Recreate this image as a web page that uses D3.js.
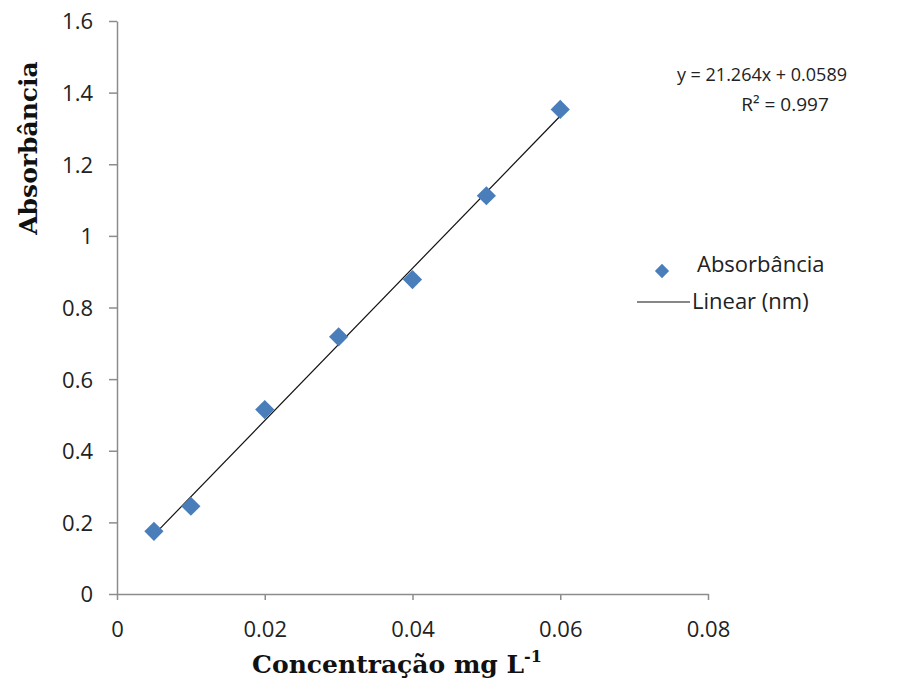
<!DOCTYPE html>
<html><head><meta charset="utf-8">
<script src="https://cdn.jsdelivr.net/npm/d3@7"></script>
<style>body{margin:0;background:#fff}svg{display:block}</style>
</head><body>
<svg id="c" width="907" height="684"></svg>
<script>
const concentrations = [0.005, 0.01, 0.02, 0.03, 0.04, 0.05, 0.06];
const absorbances = [0.175, 0.245, 0.515, 0.718, 0.878, 1.112, 1.353];
const xTicks = [0, 0.02, 0.04, 0.06, 0.08];
const yTicks = [0, 0.2, 0.4, 0.6, 0.8, 1, 1.2, 1.4, 1.6];
const slope = 21.264, intercept = 0.0589;
const trendX = [0.005, 0.06];

const svg = d3.select("#c");
const x = d3.scaleLinear().domain([0, 0.08]).range([117, 708]);
const y = d3.scaleLinear().domain([0, 1.6]).range([594, 21]);
const tickFont = "'Open Sans', sans-serif";
const axisColor = "#8c8c8c";

const xAxis = svg.append("g").attr("transform", "translate(0,594)")
  .call(d3.axisBottom(x).tickValues(xTicks).tickSize(6).tickSizeOuter(0)
    .tickFormat(d => d === 0 ? "0" : String(+d.toFixed(2))));
const yAxis = svg.append("g").attr("transform", "translate(117,0)")
  .call(d3.axisLeft(y).tickValues(yTicks).tickSize(8).tickSizeOuter(0).tickPadding(16)
    .tickFormat(d => String(+d.toFixed(1))));
[xAxis, yAxis].forEach(a => {
  a.selectAll("path,line").attr("stroke", axisColor).attr("stroke-width", 1.5);
  a.selectAll("text").attr("fill", "#222").attr("font-family", tickFont).attr("font-size", 22);
});
xAxis.selectAll("text").attr("y", 43).attr("dy", 0);
yAxis.selectAll("text").attr("dy", "0.36em");

// trendline
svg.append("line")
  .attr("x1", x(trendX[0])).attr("y1", y(slope * trendX[0] + intercept))
  .attr("x2", x(trendX[1])).attr("y2", y(slope * trendX[1] + intercept))
  .attr("stroke", "#111").attr("stroke-width", 1.2);

// points
const diamond = d3.symbol().type(d3.symbolDiamond2).size(235);
svg.append("g").selectAll("path").data(concentrations).join("path")
  .attr("d", diamond)
  .attr("transform", (d, i) => `translate(${x(d)},${y(absorbances[i])})`)
  .attr("fill", "#4a7ebb");

// axis titles
const serif = "'DejaVu Serif', 'Liberation Serif', serif";
svg.append("text").attr("transform", "translate(37,148) rotate(-90)")
  .attr("text-anchor", "middle").attr("font-family", serif).attr("font-weight", "bold")
  .attr("font-size", 25).attr("fill", "#111").text("Absorbância");
const xt = svg.append("text").attr("x", 397).attr("y", 673)
  .attr("text-anchor", "middle").attr("font-family", serif).attr("font-weight", "bold")
  .attr("font-size", 25).attr("fill", "#111");
xt.append("tspan").text("Concentração mg L");
xt.append("tspan").attr("dy", -11).attr("font-size", 16).text("-1");

// equation
svg.append("text").attr("x", 847).attr("y", 81).attr("text-anchor", "end")
  .attr("font-family", tickFont).attr("font-size", 18).attr("fill", "#222")
  .text("y = 21.264x + 0.0589");
svg.append("text").attr("x", 785).attr("y", 111).attr("text-anchor", "middle")
  .attr("font-family", tickFont).attr("font-size", 19).attr("fill", "#222")
  .text("R² = 0.997");

// legend
svg.append("path").attr("d", d3.symbol().type(d3.symbolDiamond2).size(130))
  .attr("transform", "translate(662,271)").attr("fill", "#4a7ebb");
svg.append("text").attr("x", 697).attr("y", 272)
  .attr("font-family", tickFont).attr("font-size", 22).attr("fill", "#222").text("Absorbância");
svg.append("line").attr("x1", 637).attr("x2", 690).attr("y1", 302).attr("y2", 302)
  .attr("stroke", "#111").attr("stroke-width", 1.2);
svg.append("text").attr("x", 692).attr("y", 309)
  .attr("font-family", tickFont).attr("font-size", 22).attr("fill", "#222").text("Linear (nm)");
</script>
</body></html>
